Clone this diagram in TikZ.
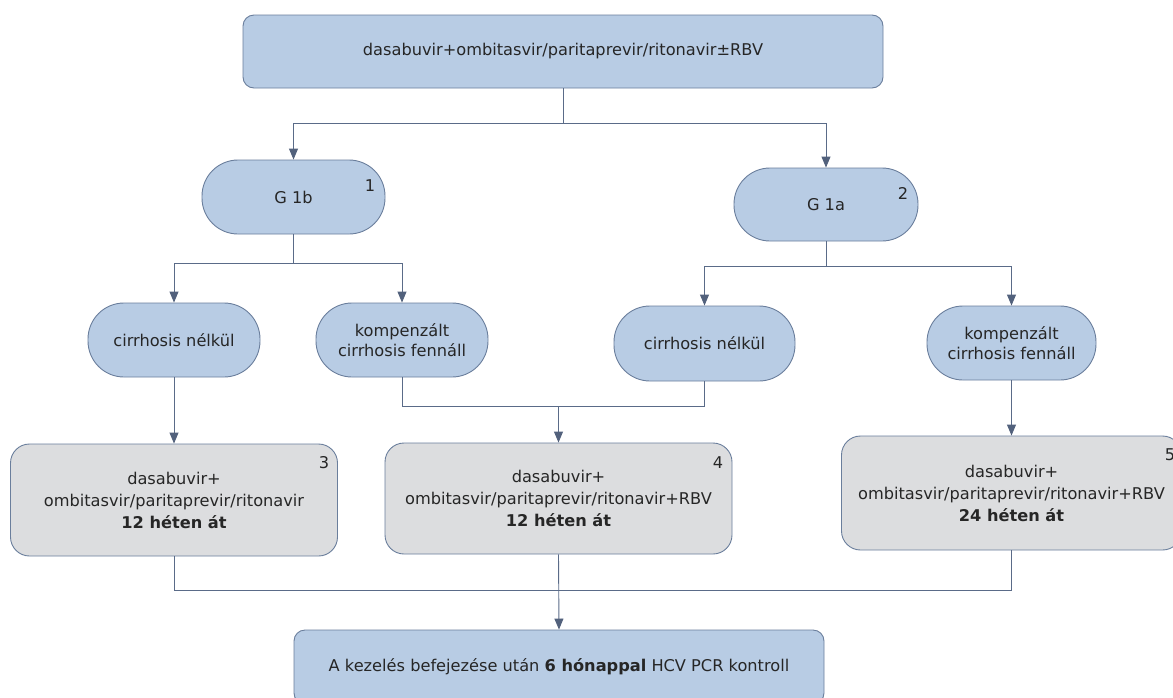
\documentclass[tikz,border=0pt]{standalone}
\usepackage{fontspec}
\setmainfont{DejaVu Sans}
\usetikzlibrary{arrows.meta}
\definecolor{boxblue}{HTML}{B8CCE4}
\definecolor{boxgray}{HTML}{DCDDDF}
\definecolor{edgecol}{HTML}{6A7E9C}
\definecolor{linecol}{HTML}{5A6B88}
\definecolor{tipcol}{HTML}{52617C}
\definecolor{txtcol}{HTML}{262626}
\tikzset{
  base/.style={draw=edgecol, line width=0.9pt, text=txtcol, align=center, inner sep=0pt,
    font=\fontsize{16.2}{22}\selectfont},
  topbox/.style={base, fill=boxblue, rounded corners=11pt},
  pill/.style={base, fill=boxblue, rounded corners=36pt},
  regbox/.style={base, fill=boxgray, rounded corners=19pt},
  num/.style={text=txtcol, inner sep=0pt, font=\fontsize{16.2}{18}\selectfont},
  conn/.style={draw=linecol, line width=0.9pt},
  arr/.style={conn, -{Triangle[length=11pt,width=9pt,color=tipcol]}}
}
\begin{document}
\begin{tikzpicture}[x=1pt,y=-1pt]
\useasboundingbox (0,0) rectangle (1173,697);
\clip (0,0) rectangle (1173,697);

% regimen at the top
\node[topbox, minimum width=640pt, minimum height=73pt] (top) at (563,51.5)
  {dasabuvir+ombitasvir/paritaprevir/ritonavir±RBV};

% genotypes
\node[pill, minimum width=183pt, minimum height=74pt] (g1b) at (293.5,197) {\raisebox{-6pt}{G 1b}};
\node[pill, minimum width=184pt, minimum height=73pt] (g1a) at (826,204.5) {\raisebox{-6pt}{G 1a}};
\node[num, anchor=center] (n1) at (370,186) {1};
\node[num, anchor=center] (n2) at (903,193) {2};

% cirrhosis status
\node[pill, minimum width=172pt, minimum height=74pt] (c1) at (174,340) {cirrhosis nélkül};
\node[pill, minimum width=172pt, minimum height=74pt] (k1) at (402,340) {kompenzált\\[-2pt]cirrhosis fennáll};
\node[pill, minimum width=181pt, minimum height=75pt] (c2) at (704.5,343.5) {cirrhosis nélkül};
\node[pill, minimum width=169pt, minimum height=74pt] (k2) at (1011.5,343) {kompenzált\\[-2pt]cirrhosis fennáll};

% treatment regimens
\node[regbox, minimum width=327pt, minimum height=112pt] (b3) at (174,500)
  {dasabuvir+\\ombitasvir/paritaprevir/ritonavir\\\textbf{12 héten át}};
\node[regbox, minimum width=347pt, minimum height=111pt] (b4) at (558.5,498.5)
  {dasabuvir+\\ombitasvir/paritaprevir/ritonavir+RBV\\\textbf{12 héten át}};
\node[regbox, minimum width=340pt, minimum height=114pt] (b5) at (1011.5,493)
  {dasabuvir+\\ombitasvir/paritaprevir/ritonavir+RBV\\\textbf{24 héten át}};
\node[num, anchor=center] (n3) at (324,463) {3};
\node[num, anchor=center] (n4) at (718,463) {4};
\node[num, anchor=center] (n5) at (1170,455) {5};

% follow-up
\node[topbox, minimum width=530pt, minimum height=74pt] (fin) at (559,667)
  {A kezelés befejezése után \textbf{6 hónappal} HCV PCR kontroll};

% junctions
\coordinate (jt) at (563,123);
\coordinate (j1) at (293.5,263);
\coordinate (j2) at (826,266);
\coordinate (j3) at (558.5,406);
\coordinate (j4) at (558.5,590);

% connectors
\draw[conn] (top.south) -- (jt);
\draw[arr] (jt) -| (g1b.north);
\draw[arr] (jt) -| (g1a.north);

\draw[conn] (g1b.south) -- (j1);
\draw[arr] (j1) -| (c1.north);
\draw[arr] (j1) -| (k1.north);

\draw[conn] (g1a.south) -- (j2);
\draw[arr] (j2) -| (c2.north);
\draw[arr] (j2) -| (k2.north);

\draw[arr] (c1.south) -- (b3.north);
\draw[conn] (k1.south) |- (j3);
\draw[conn] (c2.south) |- (j3);
\draw[arr] (j3) -- (b4.north);
\draw[arr] (k2.south) -- (b5.north);

\draw[conn] (b3.south) |- (j4);
\draw[conn] (b5.south) |- (j4);
\draw[arr] (b4.south) -- (fin.north);
\end{tikzpicture}
\end{document}
